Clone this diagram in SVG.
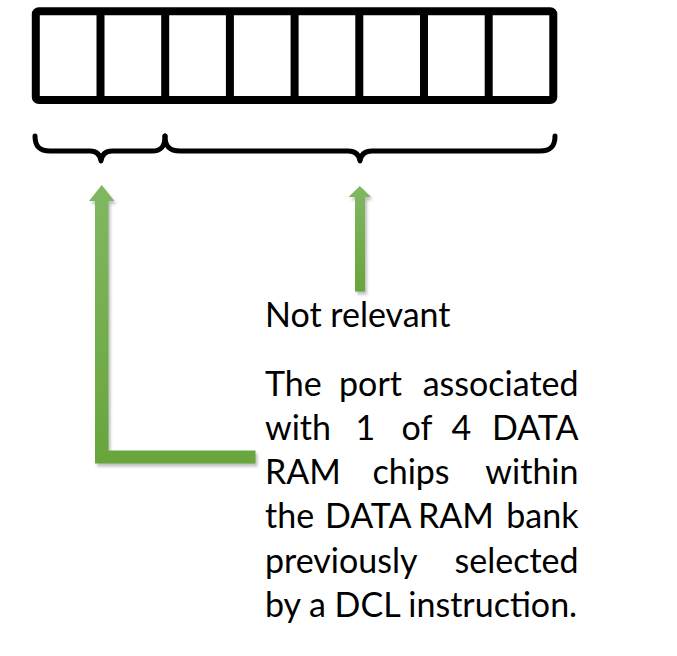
<svg xmlns="http://www.w3.org/2000/svg" width="677" height="656" viewBox="0 0 677 656">
<style>
.cell{fill:#fff;stroke:#000;stroke-width:8;stroke-linejoin:round}
.div{stroke:#000;stroke-width:8}
.brace{fill:none;stroke:#000;stroke-width:5;stroke-linecap:round;stroke-linejoin:round}
.arrow{fill:url(#g)}
.shadow{fill:#000;opacity:0.25;filter:url(#blur)}
text{font-family:Lato,"Open Sans","Liberation Sans",sans-serif;font-size:34px;fill:#000}
.m{text-anchor:middle}
.e{text-anchor:end}
</style>
<defs>
<linearGradient id="g" x1="0" y1="0" x2="0" y2="1">
<stop offset="0" stop-color="#80b862"/>
<stop offset="1" stop-color="#68a53c"/>
</linearGradient>
<filter id="blur" x="-20%" y="-20%" width="140%" height="140%"><feGaussianBlur stdDeviation="1.5"/></filter>
</defs>
<g id="register">
<rect class="cell" x="35.8" y="11.2" width="517.5" height="88.8" rx="3"/>
<path class="div" d="M100.5,11.2V100M165.2,11.2V100M229.9,11.2V100M294.6,11.2V100M359.3,11.2V100M424,11.2V100M488.7,11.2V100"/>
</g>
<g id="braces">
<path class="brace" d="M35,136 C35,147 40,151 50,151 L90,151 C96,151 100,154 101,161 C102,154 106,151 112,151 L152,151 C161,151 165,147 165,136"/>
<path class="brace" d="M165,136 C165,147 170,151 180,151 L348,151 C355,151 359,154 360,161 C361,154 365,151 372,151 L540,151 C550,151 555,147 555,136"/>
</g>
<g id="connectors">
<path class="shadow" transform="translate(2,3)" d="M95,201 L89,201 L101.7,185 L114.3,201 L108.5,201 L108.5,450.5 L255.5,450.5 L255.5,463.5 L95,463.5 Z"/>
<path class="arrow" d="M95,201 L89,201 L101.7,185 L114.3,201 L108.5,201 L108.5,450.5 L255.5,450.5 L255.5,463.5 L95,463.5 Z"/>
<path class="shadow" transform="translate(2,3)" d="M355,197 L348.5,197 L359.8,186 L371,197 L365,197 L365,291.5 L355,291.5 Z"/>
<path class="arrow" d="M355,197 L348.5,197 L359.8,186 L371,197 L365,197 L365,291.5 L355,291.5 Z"/>
</g>
<g id="label-not-relevant">
<text x="265" y="327">Not relevant</text>
</g>
<g id="label-port">
<text x="265" y="396">The</text><text class="m" x="370.5" y="396">port</text><text class="e" x="578.5" y="396">associated</text>
<text x="265" y="440">with</text><text class="m" x="365.3" y="440">1</text><text class="m" x="417" y="440">of</text><text class="m" x="461.3" y="440">4</text><text class="e" x="578.5" y="440">DATA</text>
<text x="265" y="484">RAM</text><text class="m" x="411" y="484">chips</text><text class="e" x="578.5" y="484">within</text>
<text x="265" y="528">the</text><text x="325" y="528">DATA</text><text x="418" y="528">RAM</text><text class="e" x="578.5" y="528">bank</text>
<text x="265" y="573">previously</text><text class="e" x="578.5" y="573">selected</text>
<text x="265" y="617">by a DCL instruction.</text>
</g>
</svg>
